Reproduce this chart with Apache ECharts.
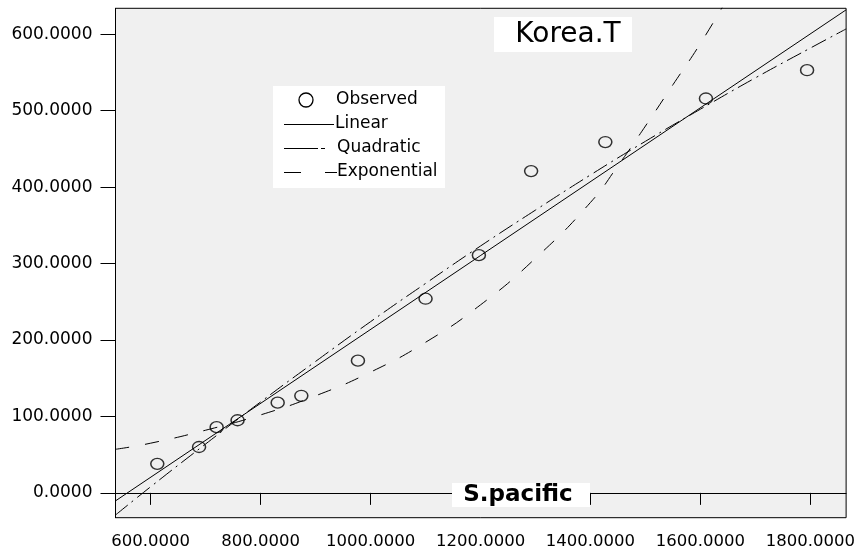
<!DOCTYPE html>
<html>
<head>
<meta charset="utf-8">
<script src="https://cdn.jsdelivr.net/npm/echarts@6/dist/echarts.min.js"></script>
<style>html,body{margin:0;padding:0;background:#fff}#c{width:858px;height:553px}</style>
</head>
<body>
<div id="c"></div>
<script>
// Observed points (S.pacific vs Korea.T)
const obsX = [612, 688, 720, 758, 831, 874, 977, 1100, 1197, 1292, 1427, 1610, 1794];
const obsY = [38, 60, 86, 95, 118, 127, 173, 254, 311, 421, 459, 516, 553];
// Fitted curves
const linX = [536, 1865];
const linY = [-10.5, 632];
const quadX = [536, 600, 700, 800, 900, 1000, 1100, 1200, 1300, 1400, 1500, 1600, 1700, 1800, 1865];
const quadY = [-29, 8, 64, 119, 172, 224, 274, 323, 370, 416, 460, 502, 543, 582, 607];
const expX = [536, 600, 700, 800, 900, 1000, 1100, 1200, 1300, 1400, 1450, 1500, 1550, 1600, 1650];
const expY = [57, 65, 82, 102, 127, 158, 197, 246, 307, 380, 428, 480, 534, 588, 648];
const xTicks = [600, 800, 1000, 1200, 1400, 1600, 1800];
const yTicks = [0, 100, 200, 300, 400, 500, 600];

const pairs = (xs, ys) => xs.map((x, i) => [x, ys[i]]);
const FONT = 'DejaVu Sans';
const chart = echarts.init(document.getElementById('c'), null, {renderer: 'canvas'});
chart.setOption({
  animation: false,
  backgroundColor: '#ffffff',
  textStyle: {fontFamily: FONT},
  grid: {left: 115.5, right: 11.3, top: 8.3, bottom: 35.3, show: true,
         backgroundColor: '#f0f0f0', borderColor: '#000', borderWidth: 1},
  xAxis: {
    type: 'value', min: 536, max: 1865,
    axisLine: {show: true, lineStyle: {color: '#000', width: 1}},
    axisTick: {show: true, customValues: xTicks, length: 12, lineStyle: {color: '#000', width: 1}},
    axisLabel: {customValues: xTicks, margin: 16, color: '#000', fontSize: 16.5, fontFamily: FONT,
                formatter: v => v.toFixed(4)},
    splitLine: {show: false}
  },
  yAxis: {
    type: 'value', min: -32.5, max: 634,
    axisLine: {show: true, lineStyle: {color: '#000', width: 1}},
    axisTick: {show: true, customValues: yTicks, length: 15, lineStyle: {color: '#000', width: 1}},
    axisLabel: {customValues: yTicks, margin: 23, color: '#000', fontSize: 17, fontFamily: FONT,
                formatter: v => v.toFixed(4)},
    splitLine: {show: false}
  },
  series: [
    {name: 'Linear', type: 'line', data: pairs(linX, linY), showSymbol: false, clip: true,
     lineStyle: {color: '#000', width: 1}},
    {name: 'Quadratic', type: 'line', data: pairs(quadX, quadY), showSymbol: false, smooth: true, clip: true,
     lineStyle: {color: '#000', width: 1, type: [16, 5, 2, 5]}},
    {name: 'Exponential', type: 'line', data: pairs(expX, expY), showSymbol: false, smooth: true, clip: true,
     lineStyle: {color: '#000', width: 1, type: [14, 16]}},
    {name: 'Observed', type: 'scatter', data: pairs(obsX, obsY), symbol: 'circle', symbolSize: [13, 11],
     itemStyle: {color: 'rgba(0,0,0,0)', borderColor: '#000', borderWidth: 1.4}}
  ],
  graphic: [
    {type: 'rect', shape: {x: 273, y: 86, width: 172, height: 102}, style: {fill: '#fff'}, z: 10},
    {type: 'circle', shape: {cx: 306, cy: 100, r: 7}, style: {fill: 'none', stroke: '#000', lineWidth: 1.3}, z: 11},
    {type: 'text', x: 336, y: 100, style: {text: 'Observed', fill: '#000', font: '17px "DejaVu Sans"', verticalAlign: 'middle'}, z: 11},
    {type: 'line', shape: {x1: 284, y1: 124.5, x2: 334, y2: 124.5}, style: {stroke: '#000', lineWidth: 1}, z: 11},
    {type: 'text', x: 335, y: 124, style: {text: 'Linear', fill: '#000', font: '17px "DejaVu Sans"', verticalAlign: 'middle'}, z: 11},
    {type: 'line', shape: {x1: 284, y1: 148.5, x2: 318, y2: 148.5}, style: {stroke: '#000', lineWidth: 1}, z: 11},
    {type: 'line', shape: {x1: 321, y1: 148.5, x2: 325, y2: 148.5}, style: {stroke: '#000', lineWidth: 1}, z: 11},
    {type: 'text', x: 337, y: 148, style: {text: 'Quadratic', fill: '#000', font: '17px "DejaVu Sans"', verticalAlign: 'middle'}, z: 11},
    {type: 'line', shape: {x1: 284, y1: 172.5, x2: 301, y2: 172.5}, style: {stroke: '#000', lineWidth: 1}, z: 11},
    {type: 'line', shape: {x1: 325, y1: 172.5, x2: 337, y2: 172.5}, style: {stroke: '#000', lineWidth: 1}, z: 11},
    {type: 'text', x: 337, y: 172, style: {text: 'Exponential', fill: '#000', font: '17px "DejaVu Sans"', verticalAlign: 'middle'}, z: 11},
    {type: 'rect', shape: {x: 494, y: 17, width: 138, height: 35}, style: {fill: '#fff'}, z: 10},
    {type: 'text', x: 568, y: 35, style: {text: 'Korea.T', fill: '#000', font: '28px "DejaVu Sans"', align: 'center', verticalAlign: 'middle'}, z: 11},
    {type: 'rect', shape: {x: 452, y: 483, width: 138, height: 24}, style: {fill: '#fff'}, z: 10},
    {type: 'text', x: 518, y: 495, style: {text: 'S.pacific', fill: '#000', font: 'bold 23px "DejaVu Sans"', align: 'center', verticalAlign: 'middle'}, z: 11}
  ]
});
</script>
</body>
</html>
